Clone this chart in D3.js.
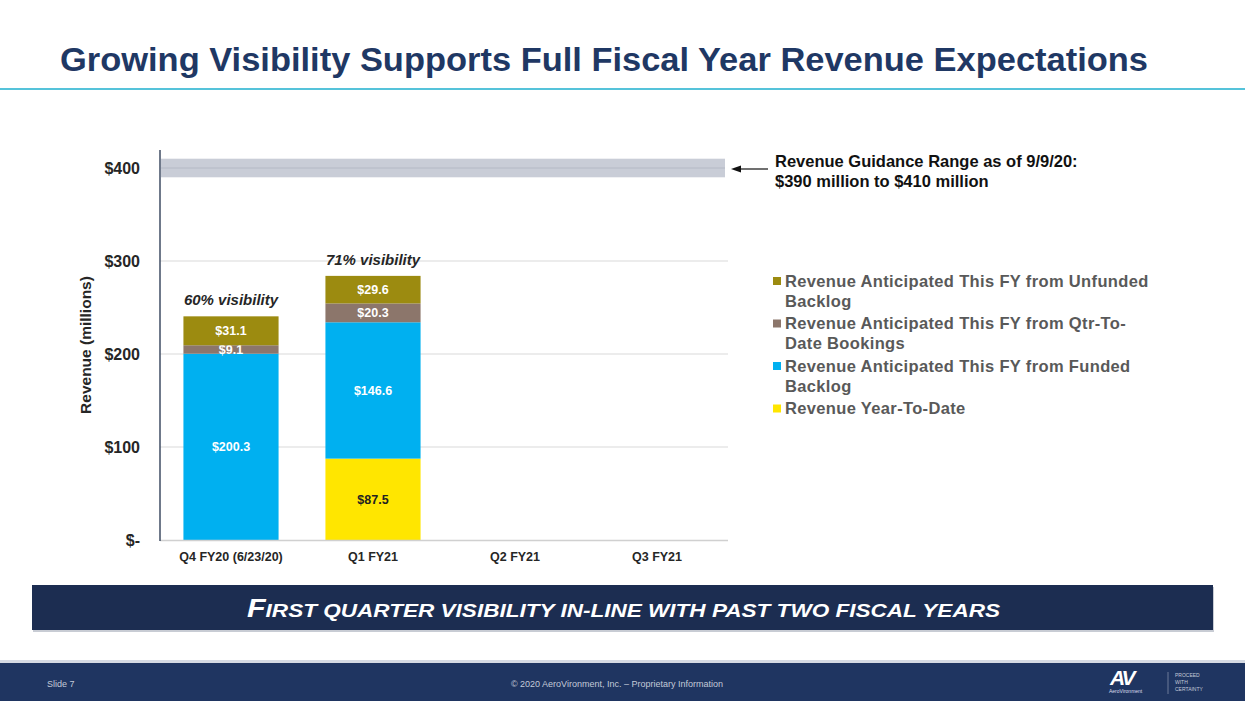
<!DOCTYPE html>
<html><head><meta charset="utf-8">
<script src="https://cdn.jsdelivr.net/npm/d3@7"></script>
<style>
html,body{margin:0;padding:0;background:#fff;}
svg{display:block;font-family:"Liberation Sans",Arial,sans-serif;}
</style></head>
<body>
<svg id="c" width="1245" height="701"></svg>
<script>
const categories = ["Q4 FY20 (6/23/20)", "Q1 FY21", "Q2 FY21", "Q3 FY21"];
const seriesNames = [
  "Revenue Year-To-Date",
  "Revenue Anticipated This FY from Funded Backlog",
  "Revenue Anticipated This FY from Qtr-To-Date Bookings",
  "Revenue Anticipated This FY from Unfunded Backlog"
];
const ytd      = [0,     87.5, 0, 0];
const funded   = [200.3, 146.6, 0, 0];
const qtd      = [9.1,   20.3, 0, 0];
const unfunded = [31.1,  29.6, 0, 0];
const visibility = ["60% visibility", "71% visibility", "", ""];
const yTicks = [0, 100, 200, 300, 400];
const yTickLabels = ["$-", "$100", "$200", "$300", "$400"];
const guidanceLow = 390, guidanceHigh = 410;
const colors = ["#ffe600", "#00b0f0", "#8c766b", "#9c8b10"];
const labelColors = ["#222", "#fff", "#fff", "#fff"];
const legendLines = [
  ["Revenue Anticipated This FY from Unfunded", "Backlog"],
  ["Revenue Anticipated This FY from Qtr-To-", "Date Bookings"],
  ["Revenue Anticipated This FY from Funded", "Backlog"],
  ["Revenue Year-To-Date"]
];
const legendOrder = [3, 2, 1, 0];

const svg = d3.select("#c");

// Title
svg.append("text").attr("x", 60).attr("y", 71)
  .attr("font-size", 33).attr("font-weight", "bold").attr("fill", "#1f3864")
  .attr("textLength", 1088).attr("lengthAdjust", "spacingAndGlyphs")
  .text("Growing Visibility Supports Full Fiscal Year Revenue Expectations");
svg.append("rect").attr("x", 0).attr("y", 88).attr("width", 1245).attr("height", 2).attr("fill", "#55c3da");

// Scales
const x = d3.scaleBand().domain(categories).range([160, 728]).paddingInner(0.33).paddingOuter(0.165);
const y = d3.scaleLinear().domain([0, 400]).range([540, 168]);

// Gridlines
svg.append("g").selectAll("line").data(yTicks.filter(d => d > 0 && d < 400)).join("line")
  .attr("x1", 160).attr("x2", 728).attr("y1", d => y(d)).attr("y2", d => y(d))
  .attr("stroke", "#d9d9d9").attr("stroke-width", 1);

// Guidance band
svg.append("rect").attr("x", 161).attr("y", y(guidanceHigh)).attr("width", 725 - 161)
  .attr("height", y(guidanceLow) - y(guidanceHigh)).attr("fill", "#c9cdd7");
svg.append("line").attr("x1", 161).attr("x2", 725).attr("y1", y(400)).attr("y2", y(400))
  .attr("stroke", "#b4b9c5").attr("stroke-width", 1);

// Stacks
const rows = categories.map((c, i) => ({cat: c, s0: ytd[i], s1: funded[i], s2: qtd[i], s3: unfunded[i]}));
const stack = d3.stack().keys(["s0", "s1", "s2", "s3"])(rows);
const g = svg.append("g");
stack.forEach((layer, li) => {
  layer.forEach((d, i) => {
    const v = d[1] - d[0];
    if (v <= 0) return;
    g.append("rect").attr("x", x(categories[i])).attr("width", x.bandwidth())
      .attr("y", y(d[1])).attr("height", y(d[0]) - y(d[1])).attr("fill", colors[li]);
    g.append("text").attr("x", x(categories[i]) + x.bandwidth() / 2)
      .attr("y", (y(d[0]) + y(d[1])) / 2 + 4.5)
      .attr("text-anchor", "middle").attr("font-size", 12.5).attr("font-weight", "bold")
      .attr("fill", labelColors[li]).text("$" + v.toFixed(1));
  });
});

// Visibility labels
rows.forEach((r, i) => {
  if (!visibility[i]) return;
  const tot = r.s0 + r.s1 + r.s2 + r.s3;
  svg.append("text").attr("x", x(categories[i]) + x.bandwidth() / 2).attr("y", y(tot) - 11)
    .attr("text-anchor", "middle").attr("font-size", 15).attr("font-weight", "bold")
    .attr("font-style", "italic").attr("fill", "#262626").text(visibility[i]);
});

// Axes
svg.append("line").attr("x1", 160).attr("x2", 728).attr("y1", 540.5).attr("y2", 540.5)
  .attr("stroke", "#d0d0d0").attr("stroke-width", 1.5);
svg.append("line").attr("x1", 160).attr("x2", 160).attr("y1", 150).attr("y2", 541)
  .attr("stroke", "#3f4d63").attr("stroke-width", 1.5);

svg.append("g").selectAll("text").data(yTicks).join("text")
  .attr("x", 140).attr("y", d => y(d) + 6).attr("text-anchor", "end")
  .attr("font-size", 16).attr("font-weight", "bold").attr("fill", "#262626")
  .text((d, i) => yTickLabels[i]);

svg.append("g").selectAll("text").data(categories).join("text")
  .attr("x", d => x(d) + x.bandwidth() / 2).attr("y", 561).attr("text-anchor", "middle")
  .attr("font-size", 12.5).attr("font-weight", "bold").attr("fill", "#262626").text(d => d);

svg.append("text").attr("transform", "translate(91,345) rotate(-90)").attr("text-anchor", "middle")
  .attr("font-size", 15.5).attr("font-weight", "bold").attr("fill", "#262626").text("Revenue (millions)");

// Guidance annotation
svg.append("line").attr("x1", 740).attr("x2", 768).attr("y1", 169).attr("y2", 169)
  .attr("stroke", "#111").attr("stroke-width", 1.2);
svg.append("path").attr("d", "M731,169 L741,165.5 L741,172.5 Z").attr("fill", "#111");
svg.append("text").attr("x", 775).attr("y", 167).attr("font-size", 16.5).attr("font-weight", "bold")
  .attr("fill", "#111").text("Revenue Guidance Range as of 9/9/20:");
svg.append("text").attr("x", 775).attr("y", 187).attr("font-size", 16.5).attr("font-weight", "bold")
  .attr("fill", "#111").text("$390 million to $410 million");

// Legend
const lg = svg.append("g");
let ly = 281;
legendOrder.forEach(si => {
  lg.append("rect").attr("x", 773).attr("y", ly - 4).attr("width", 8).attr("height", 8).attr("fill", colors[si]);
  legendLines[3 - si].forEach((t, k) => {
    lg.append("text").attr("x", 785).attr("y", ly + 5.5 + k * 20).attr("font-size", 16.5)
      .attr("letter-spacing", 0.35)
      .attr("font-weight", "bold").attr("fill", "#595959").text(t);
  });
  ly += legendLines[3 - si].length * 20 + 2.5;
});

// Banner
svg.append("rect").attr("x", 33).attr("y", 587).attr("width", 1181).attr("height", 45).attr("fill", "#c8ccd4");
svg.append("rect").attr("x", 32).attr("y", 585).attr("width", 1181).attr("height", 45).attr("fill", "#1c2d51");
const bt = svg.append("text").attr("x", 247).attr("y", 617)
  .attr("font-style", "italic").attr("font-weight", "bold").attr("fill", "#fff")
  .attr("textLength", 753).attr("lengthAdjust", "spacingAndGlyphs");
bt.append("tspan").attr("font-size", 25).text("F");
bt.append("tspan").attr("font-size", 18.5).text("IRST QUARTER VISIBILITY IN-LINE WITH PAST TWO FISCAL YEARS");

// Footer
svg.append("rect").attr("x", 0).attr("y", 660).attr("width", 1245).attr("height", 3).attr("fill", "#d5dae3");
svg.append("rect").attr("x", 0).attr("y", 663).attr("width", 1245).attr("height", 38).attr("fill", "#1f3561");
svg.append("text").attr("x", 47).attr("y", 687).attr("font-size", 9).attr("fill", "#c3cad8").text("Slide 7");
svg.append("text").attr("x", 617).attr("y", 687).attr("text-anchor", "middle").attr("font-size", 9)
  .attr("fill", "#c3cad8").text("© 2020 AeroVironment, Inc. – Proprietary Information");
svg.append("text").attr("x", 1110).attr("y", 685).attr("font-size", 21).attr("font-weight", "bold")
  .attr("font-style", "italic").attr("fill", "#fff").attr("letter-spacing", -2).text("AV");
svg.append("text").attr("x", 1109).attr("y", 693).attr("font-size", 5).attr("fill", "#dde").text("AeroVironment");
svg.append("line").attr("x1", 1168).attr("x2", 1168).attr("y1", 672).attr("y2", 694).attr("stroke", "#6c7b99");
["PROCEED", "WITH", "CERTAINTY"].forEach((t, i) => {
  svg.append("text").attr("x", 1175).attr("y", 677 + i * 7).attr("font-size", 5).attr("fill", "#c3cad8").text(t);
});
</script>
</body></html>
